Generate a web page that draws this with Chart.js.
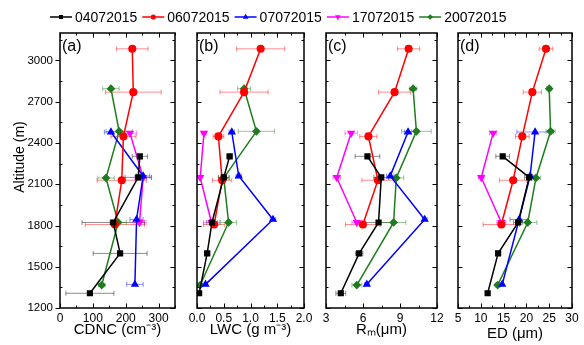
<!DOCTYPE html>
<html><head><meta charset="utf-8">
<script src="https://cdn.jsdelivr.net/npm/chart.js@4.4.0/dist/chart.umd.min.js"></script>
<style>
html,body{margin:0;padding:0;background:#fff;}
#wrap{position:relative;width:584px;height:345px;background:#fff;}
canvas{position:absolute;left:0;top:0;}
</style></head><body>
<div id="wrap">
<canvas id="ca" width="584" height="345"></canvas>
<canvas id="cb" width="584" height="345"></canvas>
<canvas id="cc" width="584" height="345"></canvas>
<canvas id="cd" width="584" height="345"></canvas>
</div>
<script>
// ---- data ----
const seriesNames = ['04072015','06072015','07072015','17072015','20072015'];
const altTicks = [1200,1500,1800,2100,2400,2700,3000];

const alt04 = [1307,1597,1822,2150,2303];
const cdnc04 = [91,183,162,238,243];
const cdnc04Err = [73,82,95,40,23];
const lwc04 = [0.04,0.19,0.28,0.50,0.61];
const lwc04Err = [0.02,0.05,0.10,0.10,0.05];
const rm04 = [4.20,5.69,7.26,7.48,6.36];
const rm04Err = [0.4,0.3,1.1,0.6,1.0];
const ed04 = [11.5,13.8,18.2,20.6,14.8];
const ed04Err = [0.5,0.3,1.0,1.0,1.5];

const alt06 = [1807,2129,2448,2770,3085];
const cdnc06 = [167,188,193,223,220];
const cdnc06Err = [90,75,38,85,48];
const lwc06 = [0.32,0.47,0.40,0.88,1.19];
const lwc06Err = [0.20,0.18,0.10,0.45,0.45];
const rm06 = [5.99,7.21,6.44,8.56,9.70];
const rm06Err = [1.4,1.3,0.7,1.3,0.9];
const ed06 = [14.5,17.1,19.1,21.3,24.3];
const ed06Err = [4,3,1.5,2,1.5];

const alt07 = [1372,1844,2160,2480];
const cdnc07 = [228,233,253,155];
const cdnc07Err = [25,20,20,20];
const lwc07 = [0.16,1.42,0.78,0.65];
const lwc07Err = [0.03,0.05,0.05,0.05];
const rm07 = [6.31,11.0,8.21,9.65];
const rm07Err = [0.2,0.2,0.3,0.3];
const ed07 = [14.7,18.4,20.8,21.9];
const ed07Err = [0.3,2,0.5,4];

const alt17 = [1822,2149,2472];
const cdnc17 = [242,253,213];
const cdnc17Err = [20,25,20];
const lwc17 = [0.27,0.06,0.13];
const lwc17Err = [0.15,0.02,0.05];
const rm17 = [5.50,3.87,5.04];
const rm17Err = [0.4,0.3,0.5];
const ed17 = [14.5,10.1,12.7];
const ed17Err = [1,0.6,0.8];

const alt20 = [1367,1822,2146,2485,2795];
const cdnc20 = [127,177,140,180,155];
const cdnc20Err = [10,25,25,40,25];
const lwc20 = [0.06,0.59,0.50,1.11,0.88];
const lwc20Err = [0.03,0.15,0.10,0.34,0.12];
const rm20 = [5.50,8.48,8.70,10.33,10.06];
const rm20Err = [0.4,1.0,0.6,1.2,0.3];
const ed20 = [13.7,20.3,22.1,25.3,25.0];
const ed20Err = [0.5,2,1,1,0.5];

// ---- styling ----
Chart.defaults.font.family = "'Liberation Sans', Arial, sans-serif";
Chart.defaults.color = '#000';
const colors = ['#000000','#ff0000','#0000ff','#ff00ff','#1e7d1e'];
const rgbaErr = ['rgba(0,0,0,0.45)','rgba(255,0,0,0.45)','rgba(0,0,255,0.45)','rgba(255,0,255,0.45)','rgba(30,125,30,0.45)'];
const pStyles = ['rect','circle','triangle','triangle','rectRot'];
const pRot = [0,0,0,180,0];
const alts = [alt04,alt06,alt07,alt17,alt20];

function buildDatasets(vals, errs){
  return seriesNames.map((n,i)=>({
    label:n,
    data: alts[i].map((a,j)=>({x:vals[i][j], y:a})),
    errs: errs[i],
    borderColor: colors[i], backgroundColor: colors[i],
    pointBackgroundColor: colors[i], pointBorderColor: colors[i],
    borderWidth:1.5, pointRadius:3.3, pointStyle:pStyles[i], pointRotation:pRot[i],
    showLine:true, errColor: rgbaErr[i]
  }));
}

const errPlugin = {
  id:'errbars',
  beforeDatasetsDraw(chart){
    const ctx = chart.ctx, xs = chart.scales.x, ys = chart.scales.y;
    ctx.save();
    chart.data.datasets.forEach(ds=>{
      ctx.strokeStyle = ds.errColor; ctx.lineWidth = 1;
      ds.data.forEach((p,j)=>{
        const e = ds.errs[j];
        const x1 = xs.getPixelForValue(p.x-e), x2 = xs.getPixelForValue(p.x+e), y = ys.getPixelForValue(p.y);
        ctx.beginPath();
        ctx.moveTo(x1,y); ctx.lineTo(x2,y);
        ctx.moveTo(x1,y-2.5); ctx.lineTo(x1,y+2.5);
        ctx.moveTo(x2,y-2.5); ctx.lineTo(x2,y+2.5);
        ctx.stroke();
      });
    });
    ctx.restore();
  }
};

const framePlugin = {
  id:'frame',
  afterDraw(chart, args, o){
    const ctx = chart.ctx, {left,right,top,bottom} = chart.chartArea;
    const xs = chart.scales.x, ys = chart.scales.y;
    ctx.save();
    ctx.strokeStyle='#000'; ctx.lineWidth=1;
    ctx.beginPath();
    for(let v=1200; v<=3200+1e-6; v+=150){
      const py = Math.round(ys.getPixelForValue(v))+0.5;
      const major = (v-1200)%300===0;
      const L = major?4.5:2.5;
      if(o.outLeft && major){ ctx.moveTo(left-L,py); ctx.lineTo(left,py); }
      else { ctx.moveTo(left,py); ctx.lineTo(left+L,py); }
      ctx.moveTo(right,py); ctx.lineTo(right-L,py);
    }
    const n = Math.round((o.max-o.min)/o.minor);
    for(let k=0;k<=n;k++){
      const v = o.min + k*o.minor;
      const px = Math.round(xs.getPixelForValue(v))+0.5;
      const major = Math.abs(((v - o.min) / o.major) - Math.round((v - o.min) / o.major))<1e-6;
      const L = major?4.5:2.5;
      ctx.moveTo(px,bottom); ctx.lineTo(px,bottom-L);
      ctx.moveTo(px,top); ctx.lineTo(px,top+L);
    }
    ctx.stroke();
    ctx.lineWidth=1.5;
    ctx.strokeRect(left,top,right-left,bottom-top);
    // panel label
    ctx.fillStyle='#000';
    ctx.font="16px 'Liberation Sans', Arial, sans-serif";
    ctx.textBaseline='middle'; ctx.textAlign='left';
    ctx.fillText(o.label, left+2, top+14);
    if(o.ytitle){
      ctx.save();
      ctx.translate(20,157); ctx.rotate(-Math.PI/2);
      ctx.textAlign='center'; ctx.font="14px 'Liberation Sans', Arial, sans-serif";
      ctx.fillText(o.ytitle,0,0);
      ctx.restore();
    }
    if(o.legend){
      ctx.font="14px 'Liberation Sans', Arial, sans-serif";
      chart.data.datasets.forEach((ds,i)=>{
        const x0 = 50 + i*92.3, y0 = 17;
        ctx.strokeStyle=ds.borderColor; ctx.lineWidth=1.5;
        ctx.beginPath(); ctx.moveTo(x0,y0); ctx.lineTo(x0+22,y0); ctx.stroke();
        ctx.fillStyle=ds.borderColor;
        Chart.helpers.drawPoint(ctx,{pointStyle:ds.pointStyle, rotation:ds.pointRotation, radius:1.8, borderWidth:1}, x0+11, y0);
        ctx.fillStyle='#000';
        ctx.fillText(ds.label, x0+25, y0+1);
      });
    }
    ctx.restore();
  }
};

function makePanel(id, cfg){
  return new Chart(document.getElementById(id), {
    type:'scatter',
    data:{datasets: buildDatasets(cfg.vals, cfg.errs)},
    options:{
      responsive:false, animation:false,
      layout:{padding:{left:0, right:584-cfg.right, top:33, bottom:0}},
      plugins:{legend:{display:false}, tooltip:{enabled:false},
        frame:{min:cfg.min,max:cfg.max,major:cfg.step,minor:cfg.minor,label:cfg.label,outLeft:cfg.first,ytitle:cfg.first?'Altitude (m)':null,legend:cfg.first}},
      scales:{
        x:{type:'linear', min:cfg.min, max:cfg.max,
          ticks:{stepSize:cfg.step, includeBounds:false, font:{size:12}, padding:3, maxRotation:0,
                 callback:(v)=>cfg.fmt(v)},
          grid:{display:false, drawTicks:false}, border:{display:false},
          title:{display:true, text:cfg.title, font:{size:15}, padding:{top:0,bottom:cfg.tpad}},
          afterFit:(s)=>{s.height=37;}},
        y:{type:'linear', min:1200, max:3200,
          ticks:{stepSize:300, includeBounds:false, display:cfg.first, font:{size:11.5}, padding:7,
                 callback:(v)=>String(v)},
          grid:{display:false, drawTicks:false}, border:{display:false},
          afterFit:(s)=>{s.width=cfg.left;}}
      }
    },
    plugins:[errPlugin, framePlugin]
  });
}

makePanel('ca',{vals:[cdnc04,cdnc06,cdnc07,cdnc17,cdnc20], errs:[cdnc04Err,cdnc06Err,cdnc07Err,cdnc17Err,cdnc20Err],
  min:0,max:350,step:100,minor:50,left:60,right:175,label:'(a)',first:true,title:'CDNC (cm\u207B\u00B3)',tpad:6,fmt:v=>String(v)});
makePanel('cb',{vals:[lwc04,lwc06,lwc07,lwc17,lwc20], errs:[lwc04Err,lwc06Err,lwc07Err,lwc17Err,lwc20Err],
  min:0,max:2,step:0.5,minor:0.25,left:197,right:304,label:'(b)',first:false,title:'LWC (g m\u207B\u00B3)',tpad:6,fmt:v=>v.toFixed(1)});
makePanel('cc',{vals:[rm04,rm06,rm07,rm17,rm20], errs:[rm04Err,rm06Err,rm07Err,rm17Err,rm20Err],
  min:3,max:12,step:3,minor:1.5,left:326,right:437,label:'(c)',first:false,title:'R\u2098(\u03BCm)',tpad:6,fmt:v=>String(v)});
makePanel('cd',{vals:[ed04,ed06,ed07,ed17,ed20], errs:[ed04Err,ed06Err,ed07Err,ed17Err,ed20Err],
  min:5,max:30,step:5,minor:2.5,left:458,right:572,label:'(d)',first:false,title:'ED (\u03BCm)',tpad:2,fmt:v=>String(v)});
</script>
</body></html>
